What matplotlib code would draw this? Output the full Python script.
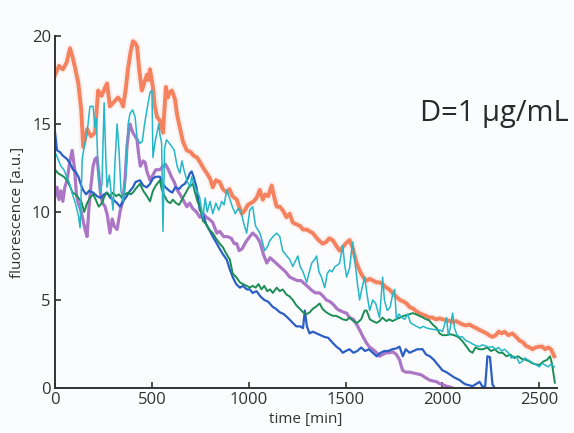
import numpy as np
import matplotlib.pyplot as plt

plt.rcParams['font.family'] = ['Open Sans', 'DejaVu Sans']

# tracce di fluorescenza (tempo in minuti, valori in u.a.)
t_orange = [0, 20, 40, 60, 77, 90, 103, 120, 135, 145, 165, 185, 206, 222, 240, 255, 268, 283, 300, 325,
            340, 351, 365, 377, 390, 402, 413, 423, 435, 448, 462, 474, 482, 490, 505, 515, 526, 541, 557, 565,
            572, 582, 592, 603, 619, 630, 644, 660, 680, 700, 715, 732, 750, 765, 783, 800, 814, 830, 850, 866,
            886, 900, 915, 938, 950, 964, 980, 995, 1010, 1025, 1040, 1057, 1072, 1085, 1100, 1118, 1130, 1144, 1160, 1175,
            1195, 1211, 1227, 1245, 1265, 1280, 1299, 1315, 1330, 1345, 1360, 1381, 1400, 1415, 1433, 1450, 1469, 1485, 1500, 1520,
            1535, 1556, 1575, 1590, 1608, 1625, 1640, 1660, 1675, 1690, 1710, 1725, 1742, 1760, 1780, 1800, 1814, 1830, 1850, 1865,
            1881, 1900, 1915, 1930, 1948, 1965, 1985, 2000, 2021, 2040, 2055, 2070, 2088, 2105, 2120, 2140, 2155, 2175, 2190, 2210,
            2227, 2240, 2258, 2275, 2290, 2305, 2320, 2340, 2361, 2380, 2397, 2415, 2430, 2450, 2464, 2480, 2500, 2515, 2530, 2545,
            2560, 2577]
y_orange = [17.8, 18.3, 18.1, 18.5, 19.3, 18.8, 18.2, 17.3, 15.8, 13.7, 14.7, 14.3, 14.5, 16.9, 16.6, 17.0, 17.3, 16.0, 16.2, 16.5,
            16.3, 16.0, 17.0, 18.2, 19.1, 19.7, 19.6, 19.4, 18.0, 16.9, 17.4, 17.8, 17.5, 18.1, 17.1, 16.0, 15.4, 15.2, 14.5, 15.9,
            17.1, 16.5, 16.8, 16.9, 16.4, 15.5, 14.8, 14.0, 13.5, 13.4, 13.2, 13.1, 12.8, 12.5, 12.2, 11.9, 11.4, 11.8, 11.7, 11.3,
            11.1, 11.3, 10.9, 10.7, 10.3, 9.9, 10.1, 10.4, 10.5, 10.6, 10.8, 11.25, 10.7, 11.0, 10.9, 11.5, 10.9, 10.3, 10.3, 10.1,
            9.7, 9.9, 9.4, 9.3, 9.2, 9.0, 9.0, 8.9, 8.8, 8.6, 8.4, 8.2, 8.3, 8.5, 8.4, 8.1, 7.8, 8.0, 8.2, 8.4,
            8.0, 7.1, 6.6, 6.3, 6.1, 6.2, 6.1, 6.0, 6.0, 5.9, 5.7, 5.6, 5.4, 5.2, 5.0, 4.9, 4.8, 4.6, 4.5, 4.35,
            4.25, 4.15, 4.1, 4.0, 4.0, 3.9, 3.95, 3.9, 3.85, 3.8, 3.75, 3.8, 3.7, 3.6, 3.55, 3.6, 3.5, 3.4, 3.3, 3.2,
            3.1, 3.0, 2.9, 3.0, 3.2, 3.1, 3.2, 3.0, 3.1, 2.9, 2.7, 2.6, 2.4, 2.3, 2.2, 2.3, 2.35, 2.35, 2.2, 2.3,
            2.2, 1.8]

t_cyan = [0, 15, 30, 45, 60, 75, 90, 105, 120, 129, 140, 150, 165, 180, 196, 206, 213, 222, 232, 242,
          253, 262, 268, 280, 290, 299, 310, 320, 330, 340, 351, 365, 377, 387, 400, 413, 423, 438, 450, 462,
          474, 490, 500, 505, 515, 526, 535, 541, 550, 557, 565, 575, 590, 603, 615, 630, 644, 655, 665, 680,
          696, 705, 715, 730, 745, 763, 775, 785, 800, 814, 830, 845, 860, 872, 886, 900, 915, 930, 945, 960,
          975, 989, 1005, 1020, 1035, 1057, 1070, 1082, 1095, 1110, 1125, 1144, 1160, 1175, 1196, 1211, 1227, 1240, 1253, 1265,
          1280, 1299, 1310, 1325, 1340, 1350, 1362, 1375, 1392, 1405, 1417, 1430, 1445, 1460, 1469, 1485, 1495, 1505, 1520, 1536,
          1550, 1560, 1572, 1585, 1598, 1612, 1624, 1640, 1655, 1675, 1691, 1700, 1715, 1730, 1742, 1753, 1762, 1775, 1790, 1805,
          1820, 1835, 1850, 1866, 1885, 1900, 1920, 1940, 1969, 1985, 2000, 2021, 2030, 2040, 2052, 2062, 2075, 2090, 2103, 2120,
          2140, 2155, 2175, 2191, 2205, 2220, 2240, 2258, 2275, 2290, 2305, 2320, 2340, 2355, 2370, 2385, 2397, 2410, 2425, 2440,
          2455, 2470, 2485, 2500, 2515, 2530, 2545, 2560, 2577]
y_cyan = [13.4, 13.0, 12.6, 12.4, 12.0, 11.6, 11.0, 10.5, 9.8, 9.1, 13.0, 13.7, 14.5, 16.0, 16.0, 14.8, 15.3, 12.2, 11.1, 11.6,
          16.2, 13.0, 11.4, 12.1, 11.0, 10.1, 13.0, 15.0, 13.5, 11.2, 10.6, 12.0, 15.0, 15.6, 15.8, 15.4, 14.2, 13.9, 14.0, 15.0,
          15.8, 16.8, 16.9, 13.1, 13.9, 14.5, 15.0, 14.4, 13.9, 8.9, 13.6, 14.1, 13.9, 13.7, 13.5, 12.6, 12.2, 12.9, 12.4, 11.8,
          11.4, 12.0, 11.6, 11.2, 10.9, 9.7, 10.8, 10.0, 10.6, 9.9, 10.5, 10.1, 10.6, 10.4, 11.25, 10.8, 10.3, 9.9, 10.2, 10.0,
          9.3, 8.8, 10.1, 10.3, 9.2, 8.8, 8.3, 7.8, 8.0, 8.4, 8.6, 8.8, 8.6, 7.8, 7.5, 7.3, 6.9, 7.2, 7.5, 6.9,
          6.6, 6.0, 6.5, 7.1, 7.3, 7.5, 6.6, 6.3, 5.7, 6.5, 6.7, 6.6, 6.9, 7.0, 7.1, 8.1, 7.0, 6.3, 6.8, 8.3,
          7.0, 6.0, 5.0, 5.7, 6.3, 5.2, 4.4, 5.0, 4.8, 4.0, 6.3, 5.0, 4.4, 4.6, 5.3, 5.6, 3.9, 4.2, 4.0, 3.9,
          4.2, 3.7, 3.6, 3.5, 3.4, 3.5, 3.4, 3.35, 3.3, 3.3, 3.2, 4.0, 3.0, 3.4, 4.25, 3.4, 3.0, 2.9, 2.9, 2.7,
          2.6, 2.5, 2.4, 2.35, 2.45, 2.4, 2.3, 2.35, 2.2, 2.3, 2.1, 2.2, 2.0, 1.7, 1.8, 1.7, 1.4, 1.5, 1.7, 1.6,
          1.5, 1.4, 1.3, 1.2, 1.4, 1.3, 1.2, 1.35, 1.2]

t_green = [0, 15, 30, 45, 62, 75, 90, 105, 120, 135, 150, 165, 180, 196, 210, 225, 242, 255, 268, 283,
           299, 315, 330, 345, 360, 377, 390, 402, 415, 438, 455, 474, 490, 505, 520, 541, 550, 565, 580, 595,
           608, 625, 640, 655, 670, 690, 711, 720, 735, 747, 763, 780, 795, 814, 830, 850, 866, 880, 902, 917,
           935, 954, 970, 990, 1005, 1020, 1035, 1050, 1065, 1080, 1095, 1110, 1124, 1144, 1160, 1175, 1195, 1211, 1227, 1245,
           1263, 1280, 1299, 1315, 1330, 1345, 1366, 1380, 1400, 1415, 1433, 1450, 1469, 1485, 1505, 1520, 1540, 1560, 1580, 1598,
           1608, 1625, 1640, 1660, 1675, 1690, 1710, 1725, 1742, 1760, 1780, 1800, 1820, 1845, 1860, 1880, 1900, 1915, 1930, 1950,
           1970, 1985, 2000, 2020, 2040, 2060, 2080, 2100, 2124, 2140, 2155, 2170, 2190, 2210, 2230, 2250, 2270, 2290, 2310, 2330,
           2350, 2370, 2390, 2410, 2430, 2450, 2464, 2480, 2500, 2520, 2540, 2555, 2565, 2580]
y_green = [12.4, 12.2, 12.1, 12.0, 11.8, 11.5, 11.1, 11.0, 10.8, 10.6, 10.0, 10.5, 10.8, 11.0, 10.7, 10.3, 10.5, 10.9, 11.1, 10.9,
           11.1, 10.9, 11.0, 10.8, 11.0, 11.1, 11.0, 11.1, 11.3, 11.6, 11.2, 10.9, 10.6, 11.2, 11.5, 11.8, 11.3, 10.9, 10.6, 10.5,
           10.7, 10.5, 10.4, 10.7, 11.0, 11.4, 11.6, 11.2, 10.6, 10.3, 9.5, 9.3, 9.0, 8.8, 8.5, 8.2, 8.0, 7.7, 7.3, 6.5,
           6.3, 6.0, 5.9, 5.8, 5.7, 5.8, 5.7, 5.9, 5.6, 5.8, 5.5, 5.6, 5.4, 5.7, 5.5, 5.6, 5.3, 5.2, 5.0, 4.7,
           4.5, 4.3, 4.2, 4.3, 4.5, 4.6, 4.8, 4.5, 4.3, 4.2, 4.1, 4.1, 4.0, 3.9, 3.85, 4.0, 3.8, 3.7, 3.9, 4.4,
           4.4, 3.9, 3.8, 3.7, 3.8, 4.0, 3.8, 3.9, 3.8, 3.9, 4.0, 4.1, 4.15, 4.25, 4.2, 4.1, 4.0, 3.9, 3.85, 3.6,
           3.4, 3.1, 3.0, 3.0, 3.05, 3.0, 2.9, 2.7, 2.35, 2.1, 2.0, 2.3, 2.2, 2.2, 2.3, 2.1, 2.2, 2.0, 2.0, 1.8,
           1.9, 1.7, 1.8, 1.65, 1.6, 1.5, 1.4, 1.35, 1.3, 1.5, 1.6, 1.8, 1.4, 0.3]

t_blue = [0, 10, 25, 40, 62, 75, 93, 105, 120, 135, 144, 160, 175, 196, 216, 235, 253, 268, 285, 300,
          320, 335, 351, 370, 387, 402, 415, 438, 455, 474, 490, 505, 520, 541, 555, 570, 590, 605, 620, 640,
          655, 670, 685, 696, 705, 715, 730, 747, 763, 780, 795, 814, 830, 850, 866, 886, 900, 917, 935, 954,
          970, 990, 1005, 1020, 1040, 1060, 1080, 1100, 1124, 1140, 1160, 1180, 1200, 1227, 1245, 1265, 1280, 1289, 1300, 1314,
          1330, 1350, 1370, 1390, 1410, 1430, 1452, 1470, 1485, 1500, 1520, 1540, 1560, 1580, 1600, 1620, 1640, 1660, 1680, 1700,
          1720, 1740, 1763, 1778, 1795, 1810, 1830, 1850, 1870, 1897, 1915, 1935, 1955, 1970, 1985, 2000, 2020, 2040, 2060, 2088,
          2105, 2120, 2140, 2155, 2170, 2191, 2205, 2220, 2232, 2245, 2258, 2270]
y_blue = [14.5, 13.5, 13.4, 13.2, 13.0, 12.8, 12.4, 12.3, 12.0, 11.5, 11.25, 11.0, 11.2, 11.1, 10.9, 10.8, 11.0, 11.1, 10.8, 10.7,
          10.5, 10.3, 10.6, 10.9, 11.2, 11.4, 11.7, 11.8, 11.5, 11.4, 11.6, 11.9, 12.0, 12.0, 11.6, 11.4, 11.2, 11.1, 11.4, 11.3,
          11.5, 11.6, 11.9, 12.2, 12.3, 12.0, 11.4, 10.1, 9.9, 9.3, 9.0, 8.6, 8.3, 7.9, 7.6, 7.3, 6.8, 6.3, 5.9, 5.7,
          5.8, 5.6, 5.6, 5.4, 5.5, 5.2, 5.0, 4.9, 4.6, 4.5, 4.3, 4.2, 4.0, 3.7, 3.5, 3.5, 3.4, 4.4, 3.5, 3.1,
          3.2, 3.1, 3.0, 2.9, 2.85, 2.6, 2.35, 2.2, 2.0, 2.1, 2.2, 2.0, 2.1, 2.3, 2.1, 2.2, 2.0, 1.8, 2.0, 2.1,
          2.1, 2.2, 2.25, 2.35, 1.8, 2.2, 2.0, 2.1, 2.2, 2.2, 1.9, 1.8, 1.6, 1.4, 1.2, 1.0, 0.9, 0.75, 0.6, 0.45,
          0.3, 0.2, 0.15, 0.1, 0.2, 0.35, 0.1, 0.05, 1.8, 1.75, 0.2, 0.0]

t_purple = [0, 10, 20, 30, 40, 50, 62, 75, 88, 100, 110, 120, 135, 145, 155, 165, 175, 185, 196, 206,
            216, 225, 235, 245, 258, 270, 283, 295, 305, 320, 335, 351, 362, 371, 380, 387, 395, 402, 413, 423,
            432, 440, 455, 465, 474, 490, 505, 520, 541, 557, 570, 585, 600, 615, 630, 645, 660, 680, 695, 710,
            730, 747, 765, 780, 795, 814, 835, 850, 870, 890, 910, 925, 938, 950, 965, 985, 1005, 1020, 1040, 1057,
            1075, 1093, 1110, 1130, 1150, 1170, 1190, 1211, 1230, 1250, 1270, 1290, 1310, 1330, 1345, 1366, 1385, 1400, 1420, 1440,
            1455, 1470, 1490, 1505, 1520, 1540, 1557, 1572, 1590, 1608, 1625, 1640, 1660, 1675, 1690, 1710, 1725, 1745, 1762, 1778,
            1794, 1810, 1830, 1850, 1870, 1890, 1910, 1933, 1950, 1970, 1985, 2000, 2020, 2040, 2050]
y_purple = [10.9, 11.4, 10.7, 11.2, 10.6, 11.4, 11.8, 12.8, 13.5, 12.5, 11.0, 10.5, 10.0, 9.5, 9.0, 8.6, 10.3, 11.5, 12.6, 13.0,
            13.1, 12.2, 11.0, 10.5, 10.3, 9.8, 8.8, 9.6, 9.2, 9.0, 10.0, 10.7, 12.0, 13.7, 14.6, 15.0, 14.7, 14.5, 14.3, 14.1,
            13.2, 12.6, 12.9, 12.8, 12.3, 11.8, 12.1, 12.4, 12.4, 12.6, 12.7, 12.4, 12.0, 11.7, 11.25, 11.0, 10.7, 10.3, 10.5, 10.2,
            10.0, 9.7, 9.9, 9.7, 9.6, 9.4, 8.8, 8.9, 8.6, 8.6, 8.5, 8.2, 8.2, 7.8, 7.9, 8.3, 8.6, 8.8, 8.6, 8.3,
            7.6, 7.1, 7.4, 7.2, 7.0, 6.8, 6.6, 6.3, 6.2, 6.1, 6.1, 5.9, 5.7, 5.5, 5.4, 5.4, 5.2, 5.0, 4.9, 4.7,
            4.5, 4.4, 4.3, 4.25, 4.0, 3.9, 3.6, 3.3, 2.9, 2.55, 2.3, 2.2, 2.0, 1.8, 1.9, 2.0, 2.0, 2.05, 1.9, 1.6,
            1.0, 0.9, 0.9, 0.85, 0.8, 0.75, 0.6, 0.45, 0.4, 0.35, 0.25, 0.2, 0.1, 0.05, 0.0]

fig = plt.figure(figsize=(5.74, 4.33), dpi=100, facecolor='#fbfcfd')
ax = fig.add_axes([0.096, 0.104, 0.874, 0.813])
ax.set_facecolor('#fbfcfd')

# arancione spesso con alone leggero
ax.plot(t_orange, y_orange, color='#f7805e', linewidth=5.5, alpha=0.1, solid_joinstyle='round')
ax.plot(t_orange, y_orange, color='#f4764f', linewidth=2.8, alpha=0.9, solid_joinstyle='round')
ax.plot(t_purple, y_purple, color='#a86fc4', linewidth=2.3, alpha=0.95)
ax.plot(t_blue, y_blue, color='#2a5fc6', linewidth=1.6)
ax.plot(t_green, y_green, color='#1b8d55', linewidth=1.4)
ax.plot(t_cyan, y_cyan, color='#25b6c8', linewidth=1.1)

ax.set_xlim(0, 2590)
ax.set_ylim(0, 20)
ax.set_xticks([0, 500, 1000, 1500, 2000, 2500])
ax.set_yticks([0, 5, 10, 15, 20])
ax.tick_params(direction='in', length=4, width=1.2, colors='#333333', labelsize=12, pad=3)
for s in ['top', 'right']:
    ax.spines[s].set_visible(False)
for s in ['left', 'bottom']:
    ax.spines[s].set_linewidth(1.4)
    ax.spines[s].set_color('#333333')

ax.set_xlabel('time [min]', fontsize=11, color='#333333', labelpad=3)
ax.set_ylabel('fluorescence [a.u.]', fontsize=11, color='#333333', labelpad=5)

fig.text(0.732, 0.739, 'D=1 \u03bcg/mL', fontsize=21, color='#2a2a2a', va='center', ha='left')

fig.savefig('out.png', dpi=100, facecolor=fig.get_facecolor())
